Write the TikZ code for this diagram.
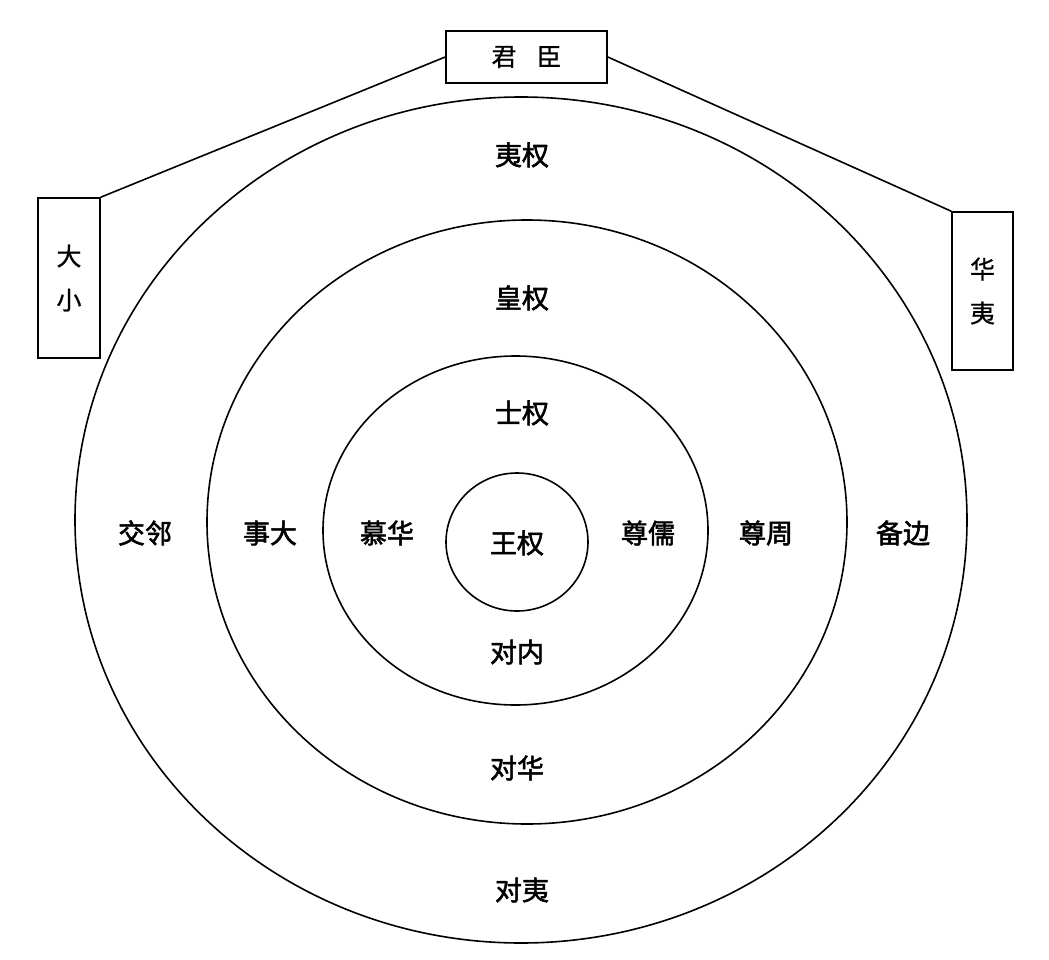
\documentclass[tikz,border=0pt]{standalone}
\usepackage{fontspec}
\newfontfamily\cjk{Noto Sans CJK SC}[FakeBold=0.8]
\newfontfamily\cjkb{Noto Sans CJK SC}[FakeBold=2]
\usetikzlibrary{shapes.geometric}
\begin{document}
\begin{tikzpicture}[x=1pt,y=-1pt,
  ring/.style={draw, ellipse, line width=1.6pt, inner sep=0pt},
  box/.style={draw, rectangle, line width=1.6pt, inner sep=0pt, align=center, font=\cjk\fontsize{25}{44}\selectfont},
  lab/.style={inner sep=0pt, font=\cjkb\fontsize{27}{30}\selectfont},
  link/.style={line width=1.6pt}]
\useasboundingbox[fill=white] (0,0) rectangle (1049,960);
\node[ring, minimum width=892pt, minimum height=846pt] (r4) at (521,520) {};
\node[ring, minimum width=640pt, minimum height=604pt] (r3) at (527,522) {};
\node[ring, minimum width=385pt, minimum height=349pt] (r2) at (515.5,530.5) {};
\node[ring, minimum width=142pt, minimum height=138pt] (r1) at (517,542) {};
\node[box, minimum width=161pt, minimum height=52pt] (jc) at (526.5,57) {君\hspace{0.8em}臣};
\node[box, minimum width=62pt, minimum height=160pt] (dx) at (69,278) {大\\小};
\node[box, minimum width=61pt, minimum height=158pt] (hy) at (982.5,291) {华\\夷};
\draw[link] (jc.west) -- (dx.north east);
\draw[link] (jc.east) -- (hy.north west);
\node[lab] (t1) at (522,155) {夷权};
\node[lab] (t2) at (522,298) {皇权};
\node[lab] (t3) at (522,413) {士权};
\node[lab] (t4) at (517,543) {王权};
\node[lab] (t5) at (517,652) {对内};
\node[lab] (t6) at (517,768) {对华};
\node[lab] (t7) at (522,890) {对夷};
\node[lab] (l1) at (145,533) {交邻};
\node[lab] (l2) at (270,533) {事大};
\node[lab] (l3) at (387,533) {慕华};
\node[lab] (l4) at (648,533) {尊儒};
\node[lab] (l5) at (766,533) {尊周};
\node[lab] (l6) at (903,533) {备边};
\end{tikzpicture}
\end{document}
